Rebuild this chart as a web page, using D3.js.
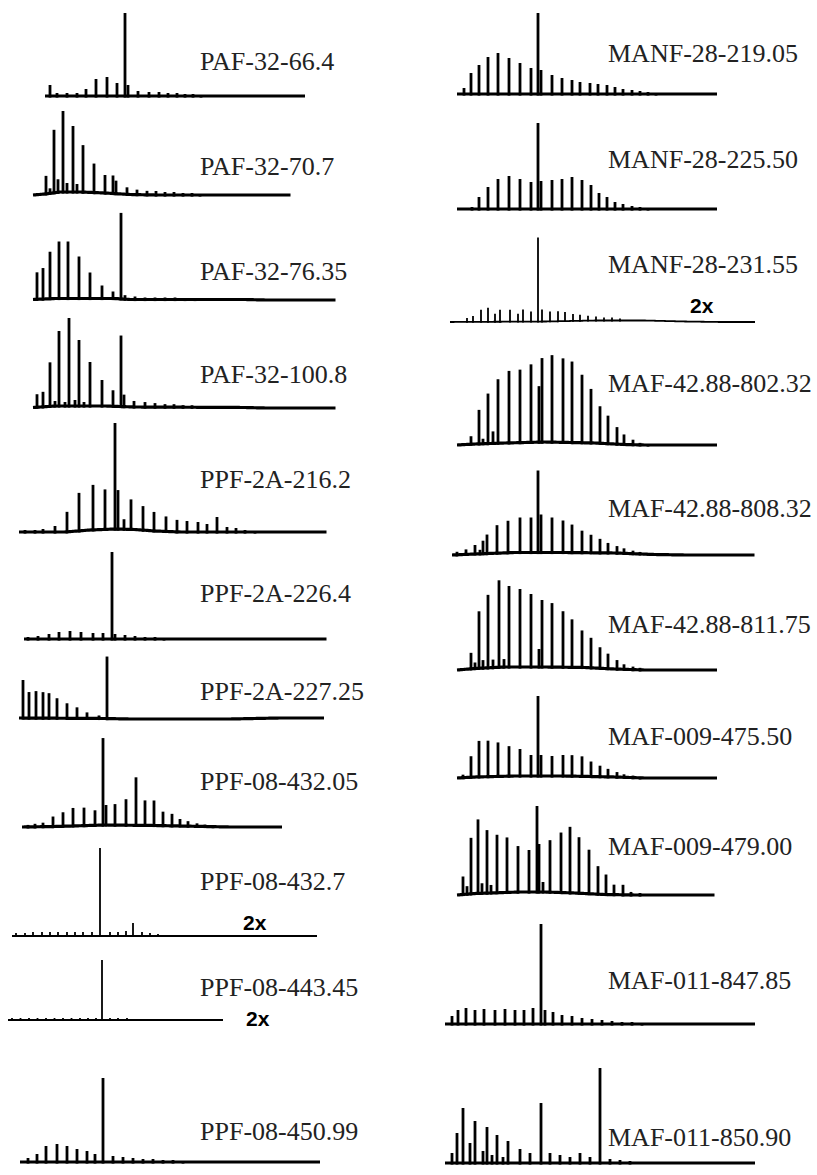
<!DOCTYPE html>
<html><head><meta charset="utf-8">
<script src="https://cdn.jsdelivr.net/npm/d3@7"></script>
<style>html,body{margin:0;padding:0;background:#fff;}svg{display:block;}</style>
</head><body>
<svg id="chart" width="817" height="1175"></svg>
<script>
// ---------------- DATA (retention time units, intensity units) ----------------
const labels = [
  "PAF-32-66.4","PAF-32-70.7","PAF-32-76.35","PAF-32-100.8","PPF-2A-216.2","PPF-2A-226.4",
  "PPF-2A-227.25","PPF-08-432.05","PPF-08-432.7","PPF-08-443.45","PPF-08-450.99",
  "MANF-28-219.05","MANF-28-225.50","MANF-28-231.55","MAF-42.88-802.32","MAF-42.88-808.32",
  "MAF-42.88-811.75","MAF-009-475.50","MAF-009-479.00","MAF-011-847.85","MAF-011-850.90"
];
const scaleNotes = ["2x","2x","2x"]; // traces shown at double scale
const traceSpans = [
  [8,60],[5.6,57.4],[5.6,66.4],[5.6,66.4],[2.8,64.6],[3.8,64.6],[2.8,64],[3.4,55.6],[1.4,62.4],[0.6,44],[3,63],
  [2.4,54.4],[2.4,54.4],[1,62],[2.4,54.4],[1.4,62.2],[2.4,54.4],[2.4,54.4],[2.4,54.2],[0,62],[0,62]
];
// peaks: [retention time, intensity]
const paf32_664 = [[9,11],[10.4,3],[12.4,3],[14.4,3],[16.2,7],[18.2,17],[20.4,19],[22.4,13],[24,83],[24.6,11],[26.6,5],[28.8,4],[30.8,4],[32.6,3],[34.4,3],[36,2],[37.6,2],[39.2,1]];
const paf32_707 = [[8.2,18],[9,5],[9.8,63],[10.6,13],[11.6,81],[12.4,9],[13.6,66],[14.4,8],[15.6,47],[17.8,29],[20,18],[21.6,18],[22.2,13],[24.4,7],[26.4,5],[28.4,4],[30.2,4],[32,3],[33.8,3],[35.6,2],[37.4,2],[39,1]];
const paf32_7635 = [[6.4,27],[7.6,31],[9,47],[10.8,57],[12.6,57],[14.8,42],[17,26],[19.4,13],[21.6,7],[23.2,86],[24,4],[26,3],[28,2],[30,2],[32,2],[34,2],[36,1],[38,1]];
const paf32_1008 = [[6.4,13],[7.6,15],[9,44],[10,5],[10.8,75],[12,4],[12.8,88],[14,6],[14.8,66],[15.8,4],[17,44],[19.4,26],[21.6,16],[23.2,71],[23.8,12],[25.8,6],[28,5],[30,4],[32,3],[33.8,3],[35.6,2],[37.4,2],[39,1],[41,1]];
const ppf2a_2162 = [[4,2],[6,2],[7.6,3],[10,6],[12.4,20],[14.8,38],[17.6,45],[20,40],[22,106],[22.6,39],[23.8,10],[25.2,30],[27.6,24],[29.8,19],[32.2,15],[34.4,12],[36.4,11],[38.6,10],[40.4,8],[42.4,15],[44.4,5],[46.2,4],[48,2],[50,1]];
const ppf2a_2264 = [[4.6,2],[6.6,3],[8.8,5],[10.8,7],[13,8],[15.2,7],[17.6,6],[19.6,6],[21.4,87],[22,5],[24,4],[26,3],[28,2],[30,2],[31.8,1]];
const ppf2a_22725 = [[3.6,38],[4.8,26],[6.2,27],[7.6,26],[8.8,25],[10.4,20],[12.4,15],[14.4,11],[16.4,6],[18.8,3],[20.4,62]];
const ppf08_43205 = [[4.6,2],[6,3],[7.6,4],[9.6,10],[11.6,14],[13.6,18],[15.8,18],[18,15],[19.6,87],[20.2,20],[22,21],[24.2,26],[26.2,48],[28,25],[29.8,25],[31.6,14],[33.4,12],[35,7],[36.6,5],[38.4,3],[40,2],[41.6,1]];
const ppf08_4327 = [[2.2,3],[4,3],[5.6,4],[7.4,4],[9,4],[10.6,4],[12.4,4],[14,4],[15.6,4],[17.4,4],[19,88],[21,4],[22.6,4],[24.2,5],[25.6,13],[27.4,4],[29,3],[30.6,2],[32.2,1],[33.8,1]];
const ppf08_44345 = [[1.4,2],[3.1,2],[4.8,2],[6.5,2],[8.2,2],[9.9,2],[11.6,2],[13.3,2],[15,2],[16.6,2],[18.2,2],[19.4,60],[21,2],[22.6,2],[24.4,2],[26,1],[27.8,1],[29.4,1]];
const ppf08_45099 = [[4.6,4],[6.4,8],[8.2,16],[10.4,18],[12.4,16],[14.4,13],[16.4,11],[18,8],[19.6,84],[21.6,6],[23.6,5],[25.6,4],[27.6,3],[29.6,3],[31.6,2],[33.6,2],[35.6,1]];
const manf28_21905 = [[3.8,6],[5.2,21],[6.8,29],[8.6,37],[10.6,41],[12.8,36],[15,31],[17.2,26],[18.6,81],[19.2,24],[21.4,19],[23.4,16],[25.4,14],[27,12],[29,11],[30.6,10],[32.4,9],[34,7],[35.6,5],[37.4,4],[39,3],[40.6,2],[42.2,1]];
const manf28_22550 = [[5.4,2],[6.8,12],[8.6,22],[10.6,30],[12.8,33],[15,30],[17.2,27],[18.6,86],[19.2,28],[21.4,29],[23.4,30],[25.4,32],[27.4,29],[29.2,24],[30.8,16],[32.4,12],[34,7],[35.6,5],[37.4,3],[39,2],[40.6,1]];
const manf28_23155 = [[4.4,4],[5.6,6],[7.2,12],[8.6,14],[10,8],[11,12],[13,12],[14.6,8],[15.6,12],[17.2,10],[18.6,84],[19.4,12],[21,10],[22.6,10],[24,9],[25.6,7],[27,6],[28.6,5],[30.2,4],[31.8,3],[33.4,3],[35,2]];
const maf4288_80232 = [[5.2,8],[6.8,34],[7.6,5],[8.6,50],[9.6,12],[10.6,64],[12.8,72],[15,73],[17.2,78],[18.8,56],[19.4,84],[21.4,87],[23.6,84],[25.4,81],[27.4,68],[29.2,54],[31,37],[32.6,28],[34.4,17],[35.8,10],[37.6,5],[39,2],[40.6,1]];
const maf4288_80832 = [[2.4,3],[4.2,5],[6,9],[7,4],[7.6,13],[8.4,19],[10.4,28],[12.6,32],[15,35],[17.2,35],[18.6,82],[19.2,38],[21.4,35],[23.6,32],[25.4,28],[27.4,22],[29.2,18],[31,14],[32.6,10],[34.4,7],[35.8,5],[37.6,3],[39,2],[40.6,1]];
const maf4288_81175 = [[5.2,16],[6,6],[6.8,57],[7.6,8],[8.6,73],[9.6,8],[10.8,87],[11.8,8],[12.8,81],[15,78],[17.2,73],[18.8,18],[19.4,67],[21.4,64],[23.6,56],[25.4,48],[27.4,37],[29.2,30],[31,21],[32.6,15],[34.4,9],[35.8,5],[37.6,3],[39,2]];
const maf009_47550 = [[3.6,3],[5.2,21],[6.8,36],[8.6,36],[10.6,34],[12.8,30],[15,27],[17.2,21],[18.6,80],[19.2,21],[21.4,20],[23.6,21],[25.4,21],[27.4,20],[29.2,15],[31,11],[32.6,8],[34.4,5],[35.8,3],[37.6,2],[39,1]];
const maf009_47900 = [[3.6,18],[4.4,8],[5.2,56],[6.6,74],[7.4,10],[8.4,63],[9.2,8],[10.4,58],[12.4,55],[14.6,46],[16.8,42],[18.4,86],[18.8,48],[19.6,10],[21,52],[23.2,60],[25,66],[26.8,56],[28.8,44],[30.6,28],[32.2,20],[33.8,10],[35.6,10],[37.2,3],[39,2]];
const maf011_84785 = [[1.4,8],[2.6,14],[4.2,16],[6,14],[7.8,15],[10,14],[12,15],[14,14],[15.8,14],[17.6,16],[19.2,100],[20,14],[21.6,12],[23.4,9],[25.4,8],[27.4,6],[29.4,5],[31.4,4],[33.4,3],[35.4,2],[37.4,2],[39.4,1]];
const maf011_85090 = [[1.4,10],[2.4,30],[3.6,55],[5,20],[6,42],[7.6,12],[8.4,36],[9.4,8],[10.4,28],[11.6,6],[12.6,22],[15,14],[17,10],[19.2,60],[21,10],[23,8],[25,6],[27,10],[29,6],[31,95],[33,4],[35,3],[37,2]];
// baseline drift: [retention time, intensity]
const flat = [];
const drift707 = [[5.6,0],[8,1],[11,3],[15,3],[20,2],[25,0.5],[30,0],[57.4,0]];
const drift7635 = [[5.6,0.5],[10,1.5],[22,1.5],[25,0.5],[48,0.5],[52,0],[66.4,0]];
const drift1008 = [[5.6,0.5],[10,2],[20,2],[26,1],[48,0.5],[52,0],[66.4,0]];
const drift2162 = [[2.8,0],[12,0],[17,2],[22,3],[26,2.5],[30,1],[35,0],[64.6,0]];
const drift22725 = [[2.8,1],[20,0.5],[25,0],[45,0],[55,1],[64,1]];
const drift43205 = [[3.4,0],[10,0.5],[20,2],[30,1.5],[40,0.5],[45,0],[55.6,0]];
const drift23155 = [[1,0],[20,0.5],[30,1.5],[40,1.5],[48,0.5],[55,0],[62,0]];
const drift80232 = [[2.4,0],[6,1],[12,2],[20,3],[30,2],[36,0.5],[40,0],[54.4,0]];
const drift80832 = [[1.4,0],[6,1],[14,2.5],[24,2.5],[34,2],[42,0.5],[48,0],[62.2,0]];
const drift81175 = [[2.4,0],[6,1.5],[12,3],[20,3],[28,2.5],[34,1],[40,0],[54.4,0]];
const drift47550 = [[2.4,0],[6,1],[14,2],[24,2],[34,1],[40,0],[54.4,0]];
const drift47900 = [[2.4,0],[6,1.5],[15,3],[20,3],[26,2],[32,0.5],[38,0],[54.2,0]];

const peakSets = [paf32_664,paf32_707,paf32_7635,paf32_1008,ppf2a_2162,ppf2a_2264,ppf2a_22725,ppf08_43205,ppf08_4327,ppf08_44345,ppf08_45099,
  manf28_21905,manf28_22550,manf28_23155,maf4288_80232,maf4288_80832,maf4288_81175,maf009_47550,maf009_47900,maf011_84785,maf011_85090];
const driftSets = [flat,drift707,drift7635,drift1008,drift2162,flat,drift22725,drift43205,flat,flat,flat,
  flat,flat,drift23155,drift80232,drift80832,drift81175,drift47550,drift47900,flat,flat];

// ---------------- LAYOUT (positions / styles) ----------------
const layout = [
  {col:0, base:96,  labelY:70},  {col:0, base:195, labelY:175}, {col:0, base:300, labelY:280},
  {col:0, base:408, labelY:383}, {col:0, base:532, labelY:488}, {col:0, base:639, labelY:602},
  {col:0, base:719, labelY:700}, {col:0, base:827, labelY:790},
  {col:0, base:936, labelY:890, thin:true, note:0, noteX:243, noteY:930},
  {col:0, base:1020, labelY:996, thin:true, note:1, noteX:246, noteY:1026},
  {col:0, base:1162, labelY:1140},
  {col:1, base:94,  labelY:62},  {col:1, base:209, labelY:168},
  {col:1, base:322, labelY:273, thin:true, note:2, noteX:690, noteY:313},
  {col:1, base:445, labelY:392}, {col:1, base:555, labelY:517}, {col:1, base:670, labelY:633},
  {col:1, base:778, labelY:745}, {col:1, base:895, labelY:855}, {col:1, base:1024, labelY:989},
  {col:1, base:1163, labelY:1146}
];
const colRange = [[5,335],[445,775]];
const labelX = [200, 608];

const svg = d3.select("#chart");
const xScales = colRange.map(r => d3.scaleLinear().domain([0,66]).range(r));

labels.forEach((lab, i) => {
  const L = layout[i];
  const x = xScales[L.col];
  const y = d3.scaleLinear().domain([0,100]).range([L.base, L.base-100]);
  const span = traceSpans[i];
  const dr = driftSets[i].length ? driftSets[i] : [[span[0],0],[span[1],0]];
  const drift = d3.scaleLinear().domain(dr.map(d=>d[0])).range(dr.map(d=>d[1])).clamp(true);
  const g = svg.append("g");
  const sw = L.thin ? 1.8 : 3.2;
  const pw = L.thin ? 1.8 : 2.8;
  // baseline
  const bpts = d3.range(span[0], span[1]+0.001, 0.5).map(t => [t, drift(t)]);
  g.append("path")
    .attr("d", d3.line().x(d=>x(d[0])).y(d=>y(d[1])).curve(d3.curveMonotoneX)(bpts))
    .attr("fill","none").attr("stroke","#000").attr("stroke-width",sw);
  // peaks
  g.selectAll("line.pk").data(peakSets[i]).join("line")
    .attr("class","pk")
    .attr("x1", d=>x(d[0])).attr("x2", d=>x(d[0]))
    .attr("y1", d=>y(drift(d[0]))+sw/2).attr("y2", d=>y(drift(d[0])+d[1]))
    .attr("stroke","#000").attr("stroke-width",pw);
  // label
  g.append("text").attr("x", labelX[L.col]).attr("y", L.labelY)
    .attr("font-family","'Liberation Serif','Times New Roman',serif")
    .attr("font-size",26).attr("fill","#222").text(lab);
  if (L.note !== undefined) {
    g.append("text").attr("x", L.noteX).attr("y", L.noteY)
      .attr("font-family","'Liberation Sans',Arial,sans-serif").attr("font-weight","bold")
      .attr("font-size",21).attr("fill","#000").text(scaleNotes[L.note]);
  }
});
</script>
</body></html>
